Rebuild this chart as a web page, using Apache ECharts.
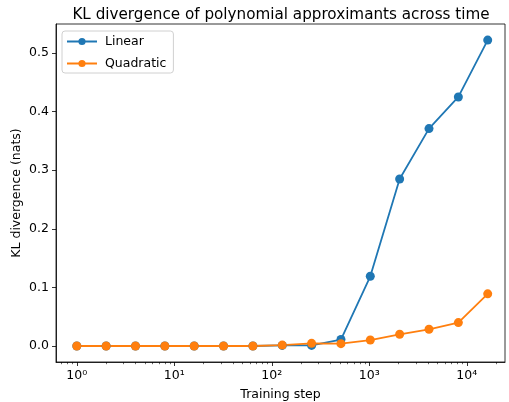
<!DOCTYPE html>
<html>
<head>
<meta charset="utf-8">
<script src="https://cdn.jsdelivr.net/npm/echarts@6/dist/echarts.min.js"></script>
<style>
  html, body { margin: 0; padding: 0; background: #fff; }
  #chart { width: 509px; height: 402px; }
</style>
</head>
<body>
<div id="chart"></div>
<script>
// training steps (powers of two)
const steps = [1, 2, 4, 8, 16, 32, 64, 128, 256, 512, 1024, 2048, 4096, 8192, 16384];
const linearKL = [0, 0, 0, 0, 0, 0, 0, 0.001, 0.001, 0.011, 0.119, 0.285, 0.371, 0.425, 0.522];
const quadraticKL = [0, 0, 0, 0, 0, 0, 0, 0.0015, 0.0045, 0.004, 0.0102, 0.020, 0.0285, 0.040, 0.089];

const xDecades = [0, 1, 2, 3, 4];
const yTicks = [0, 0.1, 0.2, 0.3, 0.4, 0.5];

const xMin = 0.612, xMax = 24650;

// minor ticks 2..9 x 10^k, in decade units for the tick axis
const xMinorTicks = [];
for (let k = -1; k <= 4; k++) {
  for (let m = 2; m <= 9; m++) xMinorTicks.push(k + Math.log10(m));
}

const supers = { '0': '⁰', '1': '¹', '2': '²', '3': '³', '4': '⁴' };
const font = 'DejaVu Sans';
const tickStyle = { color: '#000', width: 0.8 };

const chart = echarts.init(document.getElementById('chart'), null, { renderer: 'canvas' });

const option = {
  animation: false,
  textStyle: { fontFamily: font },
  title: {
    text: 'KL divergence of polynomial approximants across time',
    left: 276, top: 3, textAlign: 'center',
    textStyle: { fontFamily: font, fontSize: 15.2, fontWeight: 'normal', color: '#000' }
  },
  legend: {
    orient: 'vertical', left: 62, top: 31,
    padding: [4, 7, 3, 4],
    itemWidth: 30, itemHeight: 9, itemGap: 9,
    borderColor: '#d0d0d0', borderWidth: 1, borderRadius: 3,
    backgroundColor: 'rgba(255,255,255,0.8)',
    textStyle: { fontFamily: font, fontSize: 12.5, color: '#000', padding: [0, 0, 0, 3] },
    data: ['Linear', 'Quadratic']
  },
  grid: {
    left: 56, right: 4, top: 24, bottom: 40,
    outerBoundsMode: 'none', containLabel: false,
    show: true, borderColor: '#000', borderWidth: 0.8
  },
  xAxis: [
    {
      // data axis (log scale), no decorations
      type: 'log', logBase: 10, min: xMin, max: xMax,
      axisLine: { show: false, onZero: false }, axisTick: { show: false },
      axisLabel: { show: false }, splitLine: { show: false }
    },
    {
      // tick axis in decade units, same extent
      type: 'value', min: Math.log10(xMin), max: Math.log10(xMax), position: 'bottom',
      name: 'Training step', nameLocation: 'middle', nameGap: 26,
      nameTextStyle: { fontFamily: font, fontSize: 12.5, color: '#000' },
      axisLine: { show: true, onZero: false, lineStyle: { color: '#000', width: 0.8 } },
      splitLine: { show: false },
      axisTick: { show: true, length: 4, lineStyle: tickStyle, customValues: xDecades },
      minorTick: { show: false },
      axisLabel: {
        customValues: xDecades, margin: 7,
        fontFamily: font, fontSize: 12.5, color: '#000',
        formatter: v => '10' + String(Math.round(v)).split('').map(c => supers[c]).join('')
      }
    },
    {
      type: 'value', min: Math.log10(xMin), max: Math.log10(xMax), position: 'bottom',
      axisLine: { show: false, onZero: false },
      splitLine: { show: false },
      axisTick: { show: true, length: 2.2, lineStyle: { color: '#000', width: 0.6 }, customValues: xMinorTicks },
      axisLabel: { show: false }
    }
  ],
  yAxis: {
    type: 'value', min: -0.0273, max: 0.5495,
    name: 'KL divergence (nats)', nameLocation: 'middle', nameGap: 32.5, nameRotate: 90,
    nameMoveOverlap: false,
    nameTextStyle: { fontFamily: font, fontSize: 12.5, color: '#000' },
    axisLine: { show: true, onZero: false, lineStyle: { color: '#000', width: 0.8 } },
    splitLine: { show: false },
    axisTick: { show: true, length: 4, lineStyle: tickStyle, customValues: yTicks },
    axisLabel: {
      customValues: yTicks, margin: 7,
      fontFamily: font, fontSize: 12.5, color: '#000',
      formatter: v => v.toFixed(1)
    }
  },
  series: [
    {
      name: 'Linear', type: 'line', xAxisIndex: 0,
      data: steps.map((s, i) => [s, linearKL[i]]),
      symbol: 'circle', symbolSize: 9,
      itemStyle: { color: '#1f77b4' },
      lineStyle: { color: '#1f77b4', width: 1.8 }
    },
    {
      name: 'Quadratic', type: 'line', xAxisIndex: 0,
      data: steps.map((s, i) => [s, quadraticKL[i]]),
      symbol: 'circle', symbolSize: 9,
      itemStyle: { color: '#ff7f0e' },
      lineStyle: { color: '#ff7f0e', width: 1.8 }
    }
  ]
};

chart.setOption(option);
</script>
</body>
</html>
